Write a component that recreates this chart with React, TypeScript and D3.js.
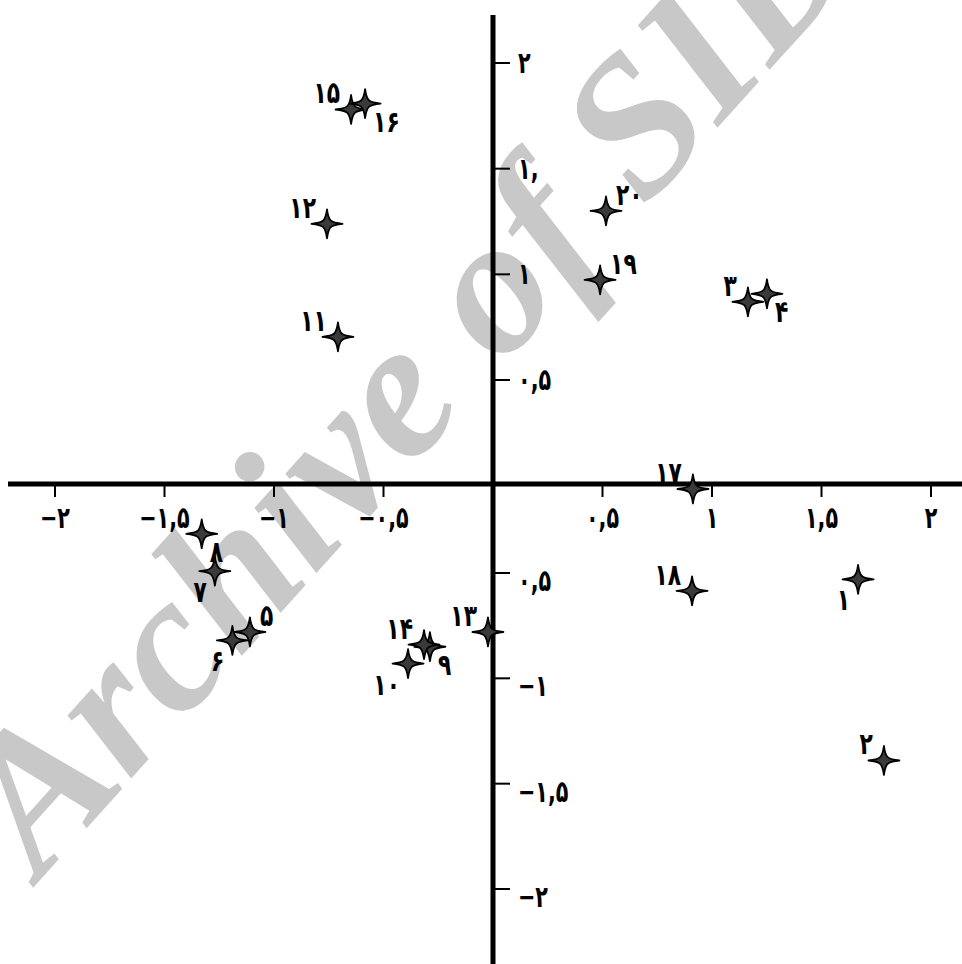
import React from "react";
import * as d3 from "d3";

// Data
const pointIds = ["۱","۲","۳","۴","۵","۶","۷","۸","۹","۱۰","۱۱","۱۲","۱۳","۱۴","۱۵","۱۶","۱۷","۱۸","۱۹","۲۰"];
const xValues = [1.667, 1.785, 1.164, 1.251, -1.11, -1.19, -1.27, -1.33, -0.288, -0.388, -0.708, -0.758, -0.023, -0.315, -0.648, -0.584, 0.913, 0.909, 0.489, 0.516];
const yValues = [-0.53, -1.39, 0.87, 0.908, -0.78, -0.82, -0.49, -0.28, -0.85, -0.93, 0.704, 1.239, -0.78, -0.84, 1.78, 1.808, -0.028, -0.585, 0.974, 1.30];
// label placement direction per point
const labelSide = ["bl","ul","ul","br","ur","bl","bl","br","br","bl","ul","ul","ul","ul","ul","br","ul","ul","ur","ur"];

const xTicks = [-2, -1.5, -1, -0.5, 0.5, 1, 1.5, 2];
const xTickLabels = ["−۲", "−۱,۵", "−۱", "−۰,۵", "۰,۵", "۱", "۱,۵", "۲"];
const yTicks = [2, 1.5, 1, 0.5, -0.5, -1, -1.5, -2];
const yTickLabels = ["۲", "۱,", "۱", "۰,۵", "۰,۵", "−۱", "−۱,۵", "−۲"];

const W = 962, H = 964;

const x = d3.scaleLinear().domain([-2, 2]).range([55, 931]);
const y = d3.scaleLinear().domain([-2, -0.5, 0, 0.5, 2]).range([889, 573, 484, 380, 63]);

const sideOffset: Record<string, [number, number, string]> = {
  ul: [-11, -6, "end"],
  ur: [10, -6, "start"],
  bl: [-8, 31, "end"],
  br: [8, 28, "start"],
};

const starPath = "M15.5,0 C4,1.2 1.6,2.2 0,14.5 C-1.6,2.2 -4,1.2 -15.5,0 C-4,-1.2 -1.6,-2.2 0,-14.5 C1.6,-2.2 4,-1.2 15.5,0Z";

export default function App() {
  const x0 = x(0);
  const y0 = y(0);
  const font = "'DejaVu Sans', sans-serif";
  return (
    <svg width={W} height={H} style={{ position: "absolute", left: 0, top: 0, background: "#fff" }}>
      {/* watermark */}
      <text
        x={40}
        y={880}
        transform="rotate(-48 40 880)"
        fontFamily="'Liberation Serif', serif"
        fontWeight="bold"
        fontStyle="italic"
        fontSize={195}
        fill="#c8c8c8"
        textLength={1235}
        lengthAdjust="spacingAndGlyphs"
      >
        Archive of SID
      </text>

      {/* axes */}
      <line x1={8} x2={W} y1={y0} y2={y0} stroke="#000" strokeWidth={5} />
      <line x1={x0} x2={x0} y1={15} y2={H} stroke="#000" strokeWidth={5} />

      {xTicks.map((t, i) => (
        <g key={"xt" + i}>
          <line x1={x(t)} x2={x(t)} y1={y0} y2={y0 + 13} stroke="#000" strokeWidth={2} />
          <text transform={`translate(${x(t)},${y0 + 44}) scale(0.9,1.3)`} textAnchor="middle" fontFamily={font} fontWeight="bold" fontSize={23}>
            {xTickLabels[i]}
          </text>
        </g>
      ))}
      {yTicks.map((t, i) => (
        <g key={"yt" + i}>
          <line x1={x0} x2={x0 + 17} y1={y(t)} y2={y(t)} stroke="#000" strokeWidth={2} />
          <text transform={`translate(${x0 + 25},${y(t) + (t < 0 ? 18 : 10)}) scale(0.9,1.3)`} textAnchor="start" fontFamily={font} fontWeight="bold" fontSize={23}>
            {yTickLabels[i]}
          </text>
        </g>
      ))}

      {pointIds.map((id, i) => {
        const px = x(xValues[i]);
        const py = y(yValues[i]);
        const [dx, dy, anchor] = sideOffset[labelSide[i]];
        return (
          <g key={"p" + i}>
            <path d={starPath} transform={`translate(${px},${py})`} fill="#3a3a3a" stroke="#000" strokeWidth={1.8} strokeLinejoin="round" />
            <text transform={`translate(${px + dx},${py + dy}) scale(0.95,1.3)`} textAnchor={anchor} fontFamily={font} fontWeight="bold" fontSize={23}>
              {id}
            </text>
          </g>
        );
      })}
    </svg>
  );
}
